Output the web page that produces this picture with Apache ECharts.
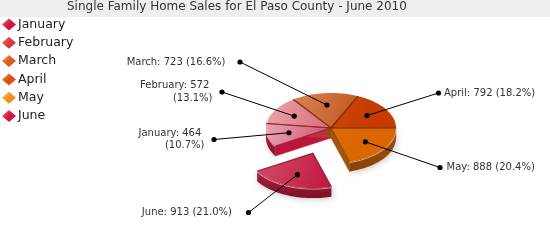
<!DOCTYPE html>
<html><head><meta charset="utf-8">
<script src="https://cdn.jsdelivr.net/npm/echarts@6/dist/echarts.min.js"></script>
<style>html,body{margin:0;padding:0;background:#fff}#c{width:550px;height:250px}</style>
</head><body><div id="c"></div>
<script>
// ---------- data ----------
const titleText = 'Single Family Home Sales for El Paso County - June 2010';
const months = ['January', 'February', 'March', 'April', 'May', 'June'];
const sales = [464, 572, 723, 792, 888, 913];
// slice order clockwise starting at 3 o'clock
const sliceOrder = ['May', 'June', 'January', 'February', 'March', 'April'];
const explodedMonths = ['June'];

// ---------- styling ----------
const legendColors = ['#d0183a', '#d8383a', '#e05a18', '#e04e0e', '#f0901c', '#d0183c'];
const legendLight  = ['#f06a80', '#f07a70', '#f8965a', '#f88a50', '#ffc060', '#f06a80'];
const faceLight = ['#edb3bd', '#eca7ad', '#de9468', '#d65820', '#e27410', '#d6566f'];
const faceDark  = ['#c92f52', '#cf5561', '#c2521a', '#c63c00', '#da6600', '#bf1038'];
const wallColor = ['#bd163c', '#b63440', '#a84212', '#a53300', '#a4540e', '#a81e40'];
const edgeColor = ['#8a1a30', '#8e2a32', '#7e3410', '#7a2a00', '#8a4200', '#7e1028'];
// label placement (outer dot and text anchor), px
const labelPlace = {
  January:  {dot: [214, 139.5], tx: 204.5, align: 'right', wrap: true},
  February: {dot: [222, 92],    tx: 212.5, align: 'right', wrap: true},
  March:    {dot: [240, 62],    tx: 225.5, align: 'right', wrap: false},
  April:    {dot: [438.5, 93],  tx: 444,   align: 'left',  wrap: false},
  May:      {dot: [440, 167.5], tx: 446.5, align: 'left',  wrap: false},
  June:     {dot: [248.5, 212.5], tx: 232, align: 'right', wrap: false}
};
const P = {cx: 331, cy: 128, rx: 65, ry: 35, depth: 10, explode: 0.77, dotR: 0.66};
const FONT = 'DejaVu Sans';

// ---------- geometry from data ----------
const total = sales.reduce((a, b) => a + b, 0);
const angles = {};
let acc = 0;
sliceOrder.forEach(m => {
  const v = sales[months.indexOf(m)];
  const a0 = acc / total * Math.PI * 2;
  acc += v;
  angles[m] = [a0, acc / total * Math.PI * 2];
});

function arc(a0, a1, ox, oy, dy) {
  const n = Math.max(2, Math.ceil((a1 - a0) / (Math.PI / 90)));
  const pts = [];
  for (let i = 0; i <= n; i++) {
    const a = a0 + (a1 - a0) * i / n;
    pts.push([ox + P.rx * Math.cos(a), oy + P.ry * Math.sin(a) + dy]);
  }
  return pts;
}
function rim(a, ox, oy, r) {
  return [ox + P.rx * r * Math.cos(a), oy + P.ry * r * Math.sin(a)];
}

function renderSlice(params, api) {
  const i = params.seriesIndex;
  const m = months[i];
  const v = api.value(0);
  const [a0, a1] = angles[m];
  const mid = (a0 + a1) / 2;
  let ox = P.cx, oy = P.cy;
  if (explodedMonths.indexOf(m) >= 0) {
    ox += P.rx * P.explode * Math.cos(mid);
    oy += P.ry * P.explode * Math.sin(mid);
  }
  const d = P.depth;
  const kids = [];
  // radial walls
  [[a0, Math.cos(a0) < 0], [a1, Math.cos(a1) > 0]].forEach(([a, vis]) => {
    if (!vis) return;
    const r = rim(a, ox, oy, 1);
    kids.push({type: 'polygon', z2: 0,
      shape: {points: [[ox, oy], r, [r[0], r[1] + d], [ox, oy + d]]},
      style: {fill: wallColor[i], stroke: wallColor[i], lineWidth: 0.5}});
  });
  // outer front wall
  const f0 = Math.max(a0, 0), f1 = Math.min(a1, Math.PI);
  if (f1 > f0) {
    const top = arc(f0, f1, ox, oy, 0);
    const bot = arc(f0, f1, ox, oy, d).reverse();
    kids.push({type: 'polygon', z2: 1,
      shape: {points: top.concat(bot)},
      style: {fill: {type: 'linear', x: 0, y: 0, x2: 0, y2: 1, colorStops: [
        {offset: 0, color: wallColor[i]}, {offset: 1, color: edgeColor[i]}]},
        shadowBlur: 6, shadowColor: 'rgba(0,0,0,0.25)', shadowOffsetX: 1, shadowOffsetY: 1}});
    kids.push({type: 'polyline', z2: 3,
      shape: {points: arc(f0, f1, ox, oy, 1)},
      style: {stroke: 'rgba(255,235,235,0.6)', lineWidth: 1, fill: null}});
  }
  // top face
  const face = [[ox, oy]].concat(arc(a0, a1, ox, oy, 0));
  kids.push({type: 'polygon', z2: 2,
    shape: {points: face},
    style: {fill: {type: 'linear', global: true, x: P.cx - P.rx, y: P.cy - P.ry, x2: P.cx + P.rx, y2: P.cy + P.ry * 0.4,
      colorStops: [{offset: 0, color: faceLight[i]}, {offset: 0.75, color: faceDark[i]}, {offset: 1, color: faceDark[i]}]}}});
  // separators
  kids.push({type: 'polyline', z2: 3,
    shape: {points: [rim(a0, ox, oy, 1), [ox, oy], rim(a1, ox, oy, 1)]},
    style: {stroke: edgeColor[i], lineWidth: 1.2, fill: null, opacity: 0.8}});
  // label
  const inner = rim(mid, ox, oy, P.dotR);
  const L = labelPlace[m];
  const pct = (v / total * 100).toFixed(1) + '%';
  const txt = L.wrap ? (m + ': ' + v + ' \n(' + pct + ')') : (m + ': ' + v + ' (' + pct + ')');
  kids.push({type: 'polyline', z2: 5, shape: {points: [inner, L.dot]},
    style: {stroke: '#000', lineWidth: 1, fill: null}});
  kids.push({type: 'circle', z2: 6, shape: {cx: inner[0], cy: inner[1], r: 2.6}, style: {fill: '#000'}});
  kids.push({type: 'circle', z2: 6, shape: {cx: L.dot[0], cy: L.dot[1], r: 2.6}, style: {fill: '#000'}});
  kids.push({type: 'text', z2: 6, x: L.tx, y: L.dot[1],
    style: {text: txt, fill: '#333', fontFamily: FONT, fontSize: 10, lineHeight: 12.5,
      align: L.align, verticalAlign: 'middle'}});
  return {type: 'group', children: kids};
}

const chart = echarts.init(document.getElementById('c'), null, {renderer: 'canvas'});
chart.setOption({
  animation: false,
  backgroundColor: '#ffffff',
  graphic: [{type: 'rect', left: 0, top: 0, z: -10, shape: {width: 550, height: 17}, style: {fill: '#eeeeee'}}],
  title: {text: titleText, left: 67, top: 1, padding: 0,
    textStyle: {fontFamily: FONT, fontSize: 12, fontWeight: 'normal', color: '#333'}},
  legend: {orient: 'vertical', left: 2, top: 18, itemWidth: 14, itemHeight: 12, itemGap: 5.3,
    icon: 'diamond', selectedMode: false, padding: 0,
    textStyle: {fontFamily: FONT, fontSize: 12.5, color: '#222', padding: [0, 0, 0, -3]},
    data: months.map((m, i) => ({name: m, itemStyle: {color: {type: 'linear', x: 0, y: 0, x2: 1, y2: 1,
      colorStops: [{offset: 0, color: legendLight[i]}, {offset: 0.5, color: legendColors[i]}, {offset: 1, color: legendColors[i]}]}}}))},
  series: months.map((m, i) => ({
    type: 'custom', name: m, coordinateSystem: 'none',
    itemStyle: {color: legendColors[i]},
    data: [[sales[i]]],
    renderItem: renderSlice
  }))
});
</script>
</body></html>
